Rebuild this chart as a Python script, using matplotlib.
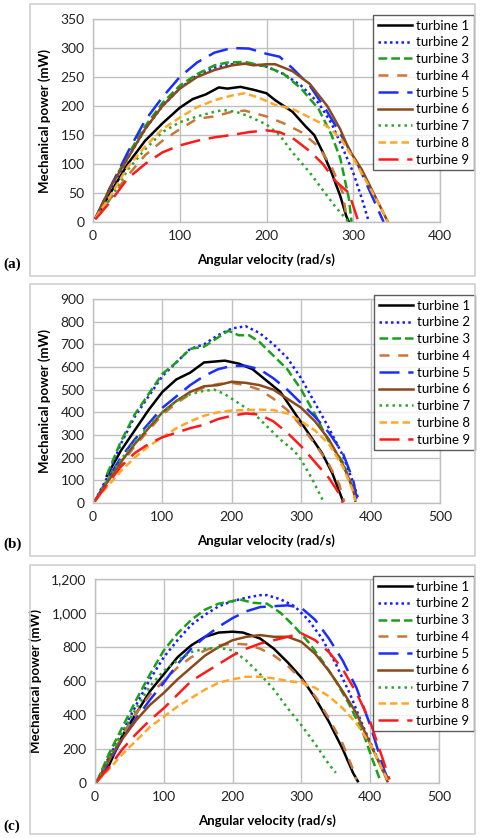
import matplotlib
matplotlib.use("Agg")
import matplotlib.pyplot as plt
from matplotlib.patches import Rectangle
from matplotlib.ticker import FuncFormatter

labels = ["turbine 1", "turbine 2", "turbine 3", "turbine 4", "turbine 5",
          "turbine 6", "turbine 7", "turbine 8", "turbine 9"]

# ---------------- panel (a) ----------------
a_t1 = [(3,7),(20,50),(40,100),(60,140),(80,170),(100,197),(115,212),(130,220),(145,232),(155,230),(170,233),(185,228),(200,222),(210,210),(230,190),(245,165),(255,150),(265,120),(275,85),(285,45),(292,10),(295,0)]
a_t2 = [(3,7),(20,55),(40,110),(60,160),(80,200),(100,230),(120,253),(140,266),(160,272),(180,273),(200,268),(220,255),(240,235),(260,205),(275,170),(290,120),(300,85),(310,40),(318,0)]
a_t3 = [(3,7),(20,60),(40,115),(60,165),(80,205),(100,235),(120,255),(140,270),(155,275),(175,276),(200,268),(220,255),(240,230),(260,195),(275,150),(285,110),(295,40),(298,0)]
a_t4 = [(3,7),(20,40),(40,80),(60,115),(80,140),(100,160),(120,178),(140,182),(160,190),(175,192),(200,182),(220,170),(240,155),(260,130),(275,95),(288,50),(293,0)]
a_t5 = [(3,7),(20,60),(40,120),(60,175),(80,215),(100,250),(120,275),(140,292),(160,300),(180,299),(200,290),(215,285),(230,265),(250,235),(270,190),(290,140),(305,100),(320,50),(335,0)]
a_t6 = [(3,7),(20,60),(40,110),(60,160),(80,200),(100,230),(120,250),(140,262),(160,270),(175,273),(185,270),(200,272),(210,272),(230,260),(250,238),(270,200),(285,160),(295,125),(310,90),(325,45),(335,15),(340,0)]
a_t7 = [(3,7),(20,40),(40,90),(60,125),(80,155),(100,172),(120,182),(140,190),(150,193),(165,190),(180,182),(200,168),(215,150),(230,120),(250,85),(265,55),(280,25),(295,0)]
a_t8 = [(3,7),(20,45),(40,95),(60,130),(80,160),(100,180),(120,198),(140,210),(160,218),(175,222),(190,215),(210,202),(230,195),(250,180),(270,165),(285,145),(300,110),(315,70),(330,30),(340,0)]
a_t9 = [(3,5),(20,35),(40,75),(60,100),(80,120),(100,132),(120,140),(140,146),(160,150),(180,155),(200,158),(215,155),(230,145),(250,122),(265,100),(280,70),(295,50),(305,5)]

# ---------------- panel (b) ----------------
b_t1 = [(20,120),(40,230),(60,320),(80,410),(100,490),(120,545),(140,575),(160,620),(190,628),(210,615),(230,590),(250,540),(270,490),(290,400),(310,310),(330,220),(345,130),(360,10)]
b_t2 = [(3,10),(20,110),(40,260),(60,380),(80,470),(100,560),(120,620),(140,680),(160,700),(180,740),(200,770),(220,780),(240,750),(260,700),(280,640),(300,550),(320,440),(340,330),(360,210),(375,90),(382,20)]
b_t3 = [(20,125),(40,270),(60,390),(80,480),(100,570),(120,620),(140,680),(160,690),(175,720),(195,760),(210,740),(225,740),(240,710),(260,650),(280,590),(300,500),(320,390),(340,270),(360,180),(375,60),(380,0)]
b_t4 = [(3,10),(20,90),(40,170),(60,250),(80,320),(100,390),(120,440),(140,480),(160,510),(180,525),(200,530),(220,520),(240,500),(260,460),(280,410),(300,340),(320,260),(340,170),(355,80),(362,5)]
b_t5 = [(3,10),(20,100),(40,200),(60,280),(80,350),(100,420),(120,470),(140,520),(160,560),(180,590),(200,605),(220,605),(240,590),(260,550),(280,500),(300,440),(320,380),(340,310),(360,220),(375,100),(380,20)]
b_t6 = [(3,10),(20,90),(40,180),(60,260),(80,330),(100,400),(120,450),(140,490),(160,515),(180,520),(200,535),(220,530),(240,520),(260,500),(280,460),(300,420),(320,360),(340,280),(360,170),(375,60),(378,10)]
b_t7 = [(3,10),(20,100),(40,190),(60,270),(80,340),(100,400),(120,450),(140,480),(160,495),(175,500),(190,480),(210,440),(230,400),(250,340),(270,280),(290,230),(300,190),(315,110),(325,50),(333,0)]
b_t8 = [(3,10),(20,70),(40,140),(60,200),(80,250),(100,290),(120,330),(140,360),(160,385),(180,400),(200,408),(220,410),(240,412),(260,410),(280,395),(300,360),(320,320),(340,260),(360,160),(375,50),(378,10)]
b_t9 = [(3,10),(20,80),(40,160),(60,220),(80,260),(100,290),(120,310),(140,330),(160,345),(180,370),(200,385),(220,395),(240,390),(260,360),(280,310),(300,250),(320,180),(340,110),(355,40),(360,0)]

# ---------------- panel (c) ----------------
c_t1 = [(3,10),(20,100),(40,280),(60,410),(80,540),(100,640),(120,740),(140,810),(160,860),(180,885),(200,890),(215,885),(240,850),(260,790),(280,710),(300,620),(320,500),(340,360),(360,200),(375,60),(382,10)]
c_t2 = [(3,10),(20,150),(40,300),(60,460),(80,610),(100,740),(120,840),(140,930),(160,990),(180,1040),(200,1070),(220,1090),(240,1105),(250,1105),(270,1080),(290,1040),(310,960),(330,850),(350,700),(370,530),(390,330),(410,150),(420,60)]
c_t3 = [(3,10),(20,170),(40,330),(60,490),(80,640),(100,780),(120,880),(140,960),(160,1020),(180,1055),(200,1070),(210,1080),(230,1060),(250,1055),(270,1000),(290,920),(310,830),(330,720),(350,600),(370,460),(390,290),(405,120),(415,10)]
c_t4 = [(3,10),(20,130),(40,280),(60,410),(80,520),(100,600),(120,680),(140,740),(160,780),(180,810),(200,820),(220,815),(240,790),(260,750),(280,690),(300,610),(320,510),(340,380),(360,230),(375,80),(380,20)]
c_t5 = [(3,10),(20,120),(40,260),(60,380),(80,490),(100,590),(120,700),(140,790),(160,860),(180,920),(200,970),(220,1010),(240,1035),(260,1040),(280,1045),(300,1030),(320,960),(340,850),(360,720),(380,560),(400,340),(420,80),(425,30)]
c_t6 = [(3,10),(20,140),(40,260),(60,370),(80,460),(100,530),(120,610),(140,680),(160,750),(180,800),(200,840),(220,860),(240,870),(260,860),(280,860),(300,830),(320,760),(340,660),(360,540),(380,410),(400,230),(420,60),(425,10)]
c_t7 = [(3,10),(20,150),(40,300),(60,440),(80,570),(100,660),(120,720),(140,770),(160,790),(180,795),(200,780),(220,720),(240,640),(260,550),(280,440),(300,340),(320,230),(340,110),(350,60)]
c_t8 = [(3,10),(20,80),(40,170),(60,250),(80,330),(100,390),(120,450),(140,500),(160,550),(180,590),(200,610),(220,625),(240,625),(260,615),(280,600),(300,590),(320,560),(340,510),(360,440),(380,350),(400,230),(420,60),(425,20)]
c_t9 = [(3,10),(20,90),(40,200),(60,290),(80,370),(100,440),(120,520),(140,600),(160,650),(180,700),(200,750),(220,790),(240,820),(260,840),(280,860),(300,880),(320,840),(340,770),(360,670),(380,530),(400,360),(420,120),(428,20)]

panel_a = [a_t1, a_t2, a_t3, a_t4, a_t5, a_t6, a_t7, a_t8, a_t9]
panel_b = [b_t1, b_t2, b_t3, b_t4, b_t5, b_t6, b_t7, b_t8, b_t9]
panel_c = [c_t1, c_t2, c_t3, c_t4, c_t5, c_t6, c_t7, c_t8, c_t9]

a_xticks = [0, 100, 200, 300, 400]
a_yticks = [0, 50, 100, 150, 200, 250, 300, 350]
b_xticks = [0, 100, 200, 300, 400, 500]
b_yticks = [0, 100, 200, 300, 400, 500, 600, 700, 800, 900]
c_xticks = [0, 100, 200, 300, 400, 500]
c_yticks = [0, 200, 400, 600, 800, 1000, 1200]

styles = [
    dict(color="black", ls="-"),
    dict(color="#1a1aff", ls=(0, (1, 1.3))),
    dict(color="#1aa01a", ls=(0, (3.5, 1.6))),
    dict(color="#c8763a", ls=(0, (4, 3.5))),
    dict(color="#1a2eff", ls=(0, (8, 3.5))),
    dict(color="#8a4a1c", ls="-"),
    dict(color="#2aa82a", ls=(0, (1, 1.6))),
    dict(color="#ffa828", ls=(0, (3, 1.6))),
    dict(color="#ff1a1a", ls=(0, (8, 3.5))),
]

plt.rcParams["font.family"] = ["Lato", "DejaVu Sans"]

W, H = 480, 838
fig = plt.figure(figsize=(W / 100, H / 100), dpi=100)

def fx(px):
    return px / W

def fy(py):
    return 1 - py / H

panels = [
    dict(data=panel_a, xt=a_xticks, yt=a_yticks, box=(30, 4, 475, 276),
         area=(93, 19, 440, 222), leg=(373, 15, 468, 187), tag="(a)", tagy=268, comma=False),
    dict(data=panel_b, xt=b_xticks, yt=b_yticks, box=(30, 284, 475, 556),
         area=(93, 299, 440, 503), leg=(374, 295, 468, 467), tag="(b)", tagy=548, comma=False),
    dict(data=panel_c, xt=c_xticks, yt=c_yticks, box=(30, 565, 475, 834),
         area=(95, 579, 439, 783), leg=(373, 576, 468, 748), tag="(c)", tagy=830, comma=True),
]

grid_col = "#c0c0c0"
for p in panels:
    bx0, by0, bx1, by1 = p["box"]
    fig.patches.append(Rectangle((fx(bx0), fy(by1)), fx(bx1 - bx0), (by1 - by0) / H,
                                 transform=fig.transFigure, fill=False,
                                 edgecolor="#d0d0d0", linewidth=1.2))
    x0, y0, x1, y1 = p["area"]
    ax = fig.add_axes([fx(x0), fy(y1), fx(x1 - x0), (y1 - y0) / H])
    handles = []
    for d, st, lab in zip(p["data"], styles, labels):
        xs = [q[0] for q in d]
        ys = [q[1] for q in d]
        h, = ax.plot(xs, ys, color=st["color"], linestyle=st["ls"], lw=1.8,
                     label=lab, dash_capstyle="butt")
        handles.append(h)
    ax.set_xlim(p["xt"][0], p["xt"][-1])
    ax.set_ylim(p["yt"][0], p["yt"][-1])
    ax.set_xticks(p["xt"])
    ax.set_yticks(p["yt"])
    if p["comma"]:
        ax.yaxis.set_major_formatter(FuncFormatter(lambda v, pos: f"{v:,.0f}"))
    ax.grid(True, color=grid_col, lw=1.0)
    ax.set_axisbelow(True)
    for s in ax.spines.values():
        s.set_color(grid_col)
        s.set_linewidth(1.0)
    ax.tick_params(length=0, labelsize=10, pad=6, colors="#222222")
    ax.set_xlabel("Angular velocity (rad/s)", fontsize=9.5, fontweight="bold", labelpad=8)
    ax.set_ylabel("Mechanical power (mW)", fontsize=9.5, fontweight="bold", labelpad=7)
    lx0, ly0, lx1, ly1 = p["leg"]
    leg = ax.legend(handles=handles, loc="upper left",
                    bbox_to_anchor=((lx0 - x0) / (x1 - x0), 1 - (ly0 - y0) / (y1 - y0)),
                    fontsize=9.5, frameon=True, fancybox=False, handlelength=2.6,
                    handletextpad=0.3, labelspacing=0.36, borderpad=0.35,
                    borderaxespad=0)
    leg.get_frame().set_edgecolor("#333333")
    leg.get_frame().set_linewidth(1.0)
    fig.text(fx(3), fy(p["tagy"]), p["tag"], fontsize=11, fontweight="bold",
             family="Liberation Serif", ha="left", va="baseline")

fig.savefig("out.png", dpi=100)
